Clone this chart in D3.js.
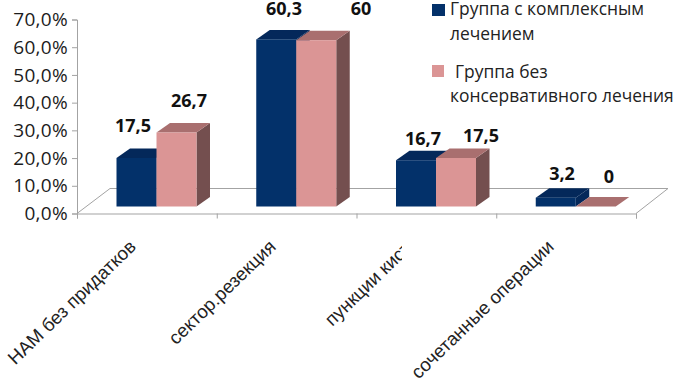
<!DOCTYPE html>
<html>
<head>
<meta charset="utf-8">
<script src="https://cdn.jsdelivr.net/npm/d3@7"></script>
<style>
html, body { margin: 0; padding: 0; background: #fff; }
svg { display: block; }
.axis path, .axis line { stroke: #a3a3a3; }
.ytick text { font-family: "Open Sans", sans-serif; font-size: 19px; letter-spacing: 0.3px; fill: #1c1c1c; }
.cat { font-family: "Liberation Sans", sans-serif; font-size: 18.6px; fill: #222; }
.val { font-family: "Open Sans", sans-serif; font-size: 18px; font-weight: 700; fill: #111; text-anchor: middle; }
.leg { font-family: "Open Sans", sans-serif; font-size: 17.4px; fill: #222; }
</style>
</head>
<body>
<svg id="chart" width="677" height="383"></svg>
<script>
const categories = ['НАМ без придатков', 'сектор.резекция', 'пункции кист', 'сочетанные операции'];
const seriesA = [17.5, 60.3, 16.7, 3.2];
const seriesB = [26.7, 60, 17.5, 0];
const labelsA = ['17,5', '60,3', '16,7', '3,2'];
const labelsB = ['26,7', '60', '17,5', '0'];
const yTicks = [0, 10, 20, 30, 40, 50, 60, 70];

// labels in the source sit by hand, not on the bars
const labelPosA = [[133, 132], [284, 15], [423, 145], [562, 180]];
const labelPosB = [[189, 107], [361, 15], [481, 142], [609, 183]];
const catEnds = [[137, 248], [277, 248], [412, 250], [555, 248]];

const colors = [
    { front: '#03316a', top: '#04285a', side: '#04285a' },
    { front: '#db9595', top: '#a96f6f', side: '#744f4f' }
];
const depth = { x: 13.5, y: -9.5 };

let svg = d3.select('#chart');

let y = d3.scaleLinear().domain([0, 70]).range([213.5, 19.5]);
let edge = d3.scaleLinear().domain([0, 4]).range([77, 636]);
let x0 = d3.scaleBand().domain(d3.range(4)).range([77, 636]);
let barOffset = 39.5;
let barW = 40;

// floor
let floor = svg.append('g').attr('fill', 'none').attr('stroke', '#a3a3a3');
floor.append('path').attr('d', `M${edge(0)},${y(0)} L${edge(0) + 33},188.5 L${edge(4) + 32},188.5 L${edge(4)},${y(0)}`);

// axes
svg.append('g').attr('class', 'axis ytick')
    .attr('transform', `translate(${edge(0)},0)`)
    .call(d3.axisLeft(y).tickValues(yTicks).tickSize(5).tickPadding(4).tickFormat(d => d + ',0%'));
svg.append('g').attr('class', 'axis')
    .attr('transform', `translate(0,${y(0)})`)
    .call(d3.axisBottom(edge).tickValues(d3.range(5)).tickSize(5).tickFormat(''));

// bars
let bars = svg.append('g').attr('transform', 'translate(0,-7)');
[seriesA, seriesB].forEach((values, s) => {
    let c = colors[s];
    let g = bars.selectAll('g.s' + s).data(values).enter().append('g').attr('class', 's' + s);
    let left = (d, i) => x0(i) + barOffset + s * barW;
    g.append('path').attr('fill', c.side).attr('d', (d, i) => {
        let r = left(d, i) + barW;
        return `M${r},${y(d)} l${depth.x},${depth.y} V${y(0) + depth.y} L${r},${y(0)} Z`;
    });
    g.append('path').attr('fill', c.top).attr('d', (d, i) => {
        let l = left(d, i);
        return `M${l},${y(d)} l${depth.x},${depth.y} h${barW} l${-depth.x},${-depth.y} Z`;
    });
    g.append('rect').attr('fill', c.front)
        .attr('x', left).attr('y', d => y(d))
        .attr('width', barW).attr('height', d => y(0) - y(d));
});

// value labels
svg.selectAll('text.a').data(labelsA).enter().append('text').attr('class', 'val a')
    .attr('x', (d, i) => labelPosA[i][0]).attr('y', (d, i) => labelPosA[i][1]).text(d => d);
svg.selectAll('text.b').data(labelsB).enter().append('text').attr('class', 'val b')
    .attr('x', (d, i) => labelPosB[i][0]).attr('y', (d, i) => labelPosB[i][1]).text(d => d);

// category labels, third one is cut off in the source
svg.append('defs').append('clipPath').attr('id', 'cut').append('rect')
    .attr('x', 0).attr('y', 0).attr('width', 402).attr('height', 383);
svg.selectAll('text.cat').data(categories).enter().append('g')
    .attr('clip-path', (d, i) => i == 2 ? 'url(#cut)' : null)
    .append('text').attr('class', 'cat')
    .attr('text-anchor', 'end')
    .attr('transform', (d, i) => `translate(${catEnds[i][0]},${catEnds[i][1]}) rotate(-44)`)
    .text(d => d);

// legend
let legend = svg.append('g');
legend.append('rect').attr('x', 432).attr('y', 4).attr('width', 13).attr('height', 12).attr('fill', colors[0].front);
legend.append('rect').attr('x', 432).attr('y', 65).attr('width', 12).attr('height', 12).attr('fill', colors[1].front);
[['Группа с комплексным', 450, 15], ['лечением', 450, 40], ['Группа без', 455, 78], ['консервативного лечения', 450, 102]]
    .forEach(t => legend.append('text').attr('class', 'leg').attr('x', t[1]).attr('y', t[2]).text(t[0]));
</script>
</body>
</html>
